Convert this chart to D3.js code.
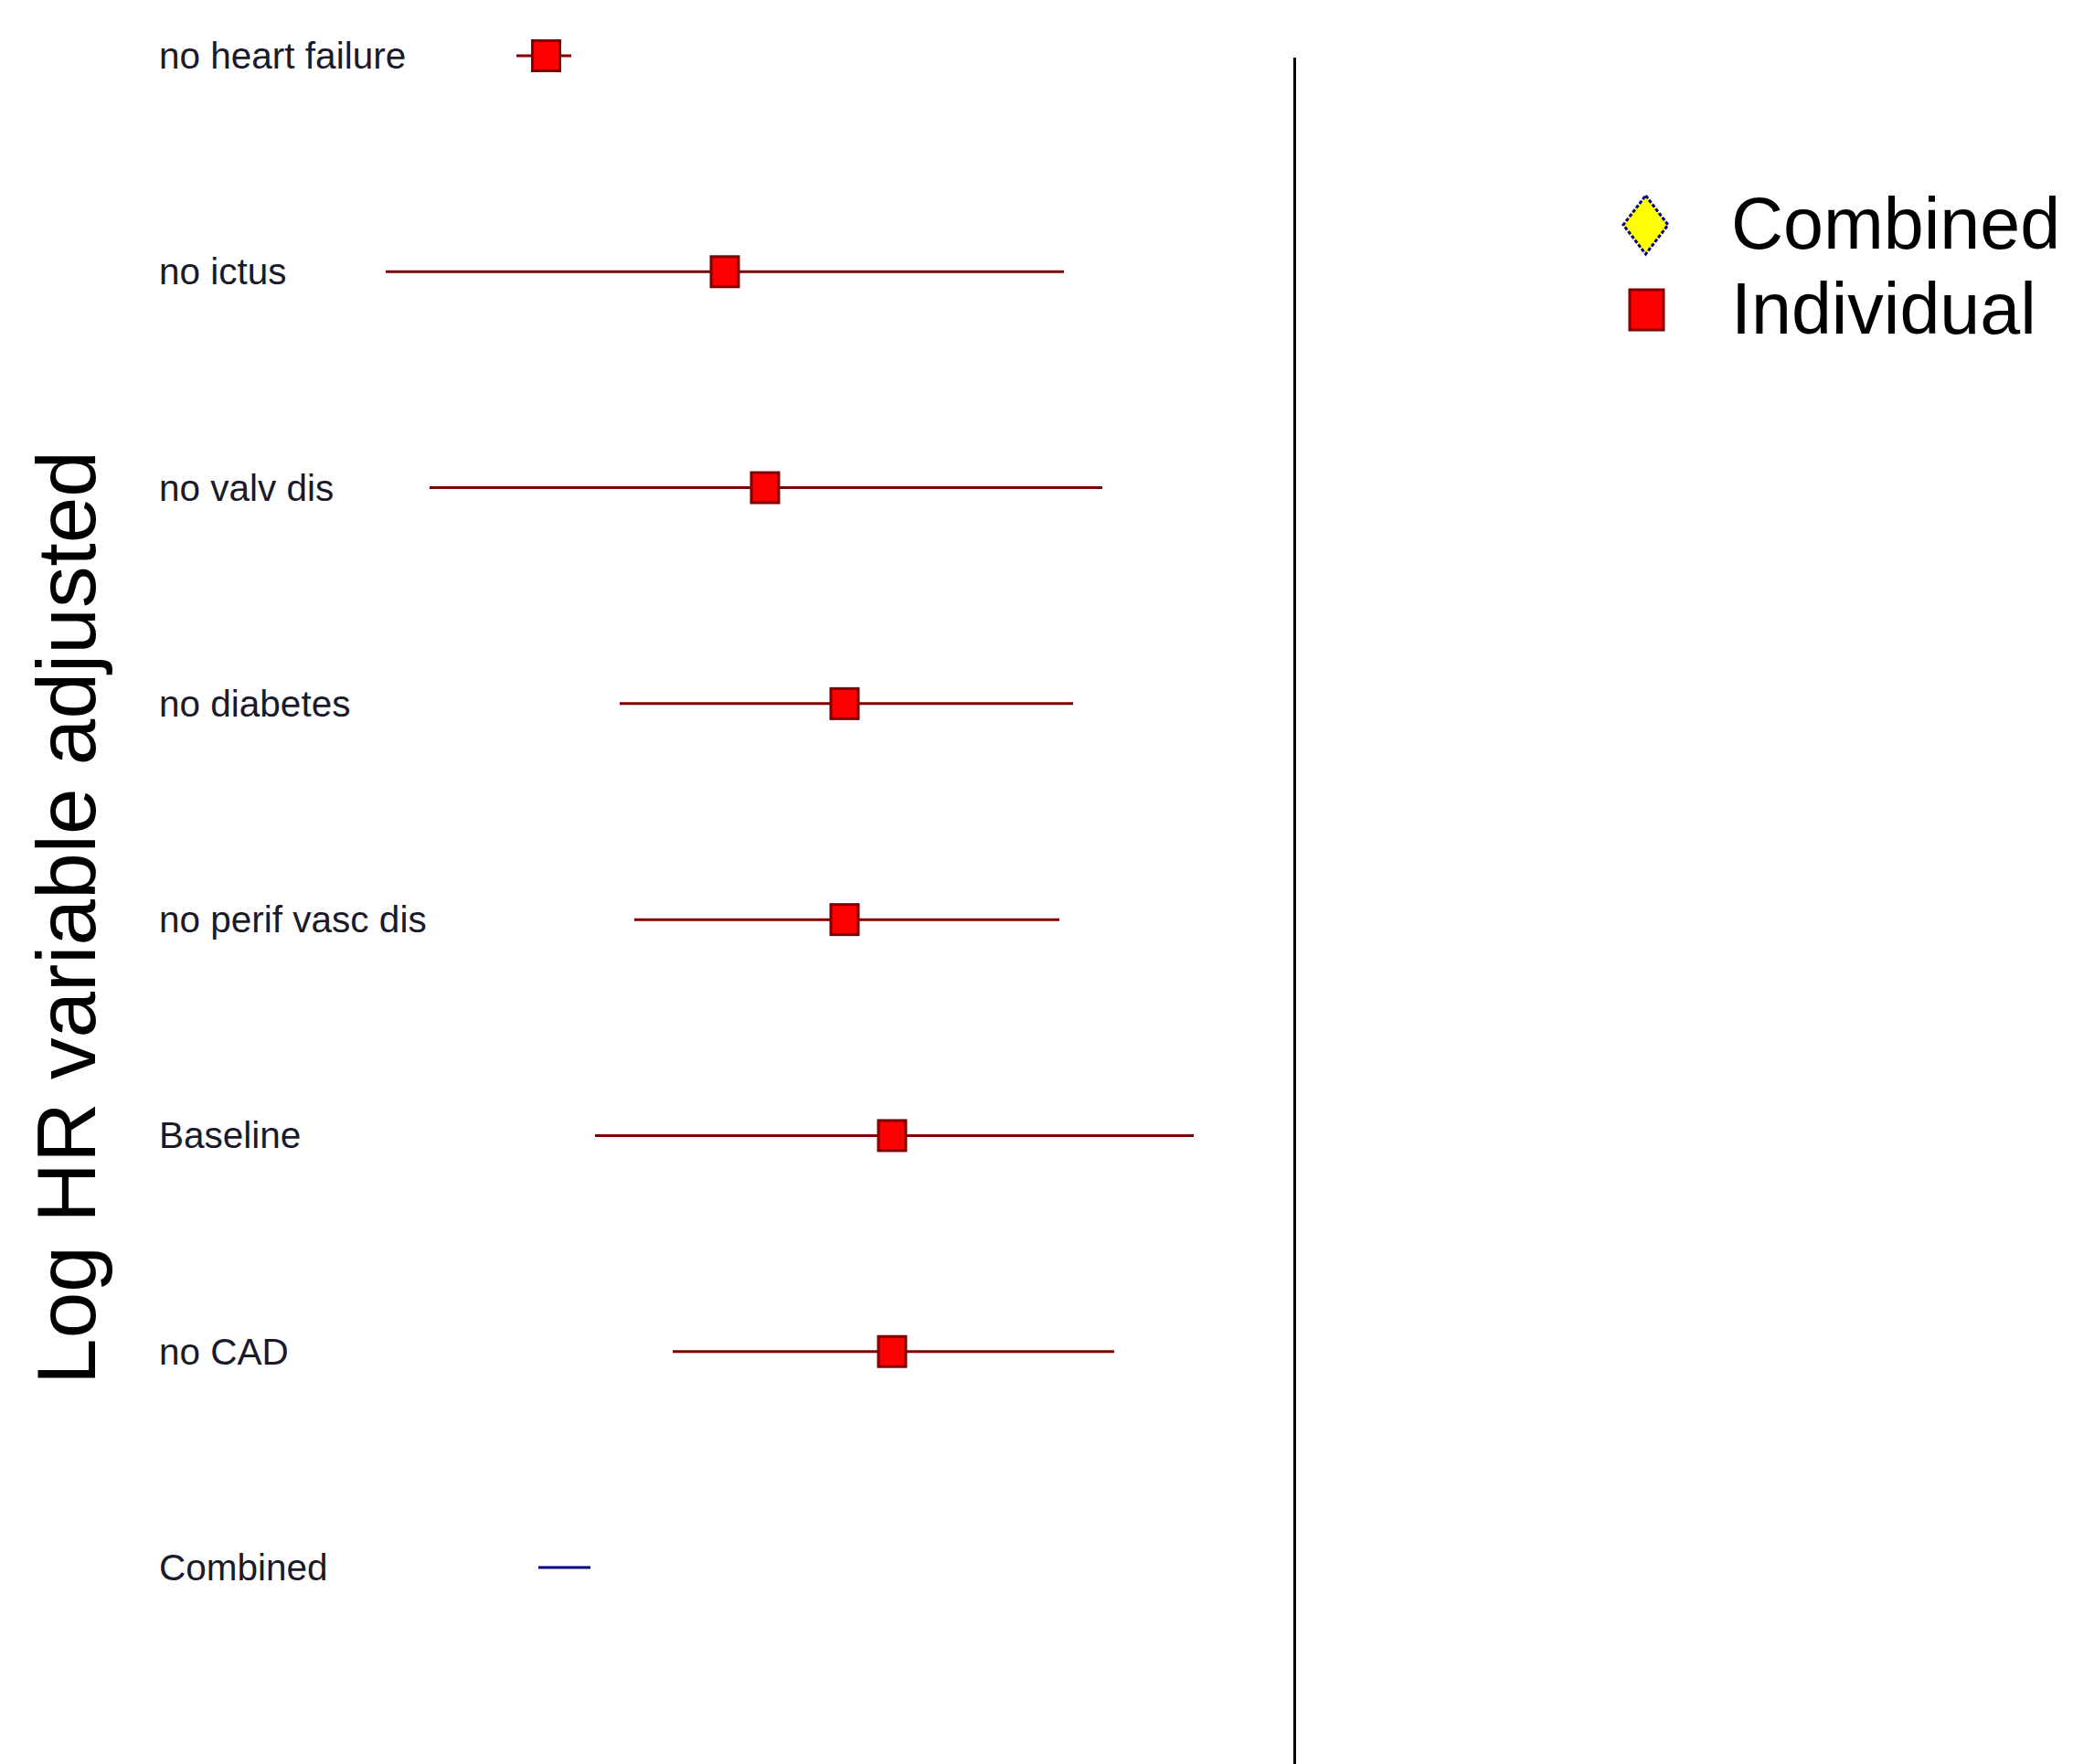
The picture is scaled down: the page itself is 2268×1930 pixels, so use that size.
<!DOCTYPE html>
<html>
<head>
<meta charset="utf-8">
<script src="https://cdn.jsdelivr.net/npm/d3@7"></script>
<style>
  html, body { margin: 0; padding: 0; background: #ffffff; }
  svg { display: block; }
</style>
</head>
<body>
<svg id="chart" width="2268" height="1930"></svg>
<script>
// Forest plot: log hazard ratio with each variable removed from adjustment
const labels = ["no heart failure", "no ictus", "no valv dis", "no diabetes",
                "no perif vasc dis", "Baseline", "no CAD", "Combined"];
const estimates = [-1.638, -1.247, -1.159, -0.985, -0.985, -0.881, -0.881, -1.599];
const lowerCI  = [-1.703, -1.989, -1.893, -1.477, -1.445, -1.531, -1.361, -1.655];
const upperCI  = [-1.583, -0.505, -0.421, -0.485, -0.515, -0.221, -0.395, -1.541];
const kinds    = ["Individual", "Individual", "Individual", "Individual",
                  "Individual", "Individual", "Individual", "Combined"];
const legendItems = ["Combined", "Individual"];

const rows = labels.map((label, i) => ({
  label, est: estimates[i], lo: lowerCI[i], hi: upperCI[i], kind: kinds[i]
}));

const svg = d3.select("#chart");

const x = d3.scaleLinear().domain([-2, 0]).range([416.5, 1416.5]);
const y = d3.scalePoint().domain(labels).range([61, 1715]);

const lineColor = { Individual: "#800000", Combined: "#000080" };

// y-axis title
svg.append("text")
  .attr("transform", "translate(104,1004) rotate(-90)")
  .attr("text-anchor", "middle")
  .attr("font-family", "Liberation Sans, Arial, sans-serif")
  .attr("font-size", 91)
  .attr("fill", "#000")
  .text("Log HR variable adjusted");

// row labels
svg.append("g").selectAll("text")
  .data(rows)
  .join("text")
  .attr("x", 174)
  .attr("y", d => y(d.label) + 14)
  .attr("font-family", "Liberation Sans, Arial, sans-serif")
  .attr("font-size", 40.5)
  .attr("fill", "#1a1a2a")
  .text(d => d.label);

// reference line at log HR = 0
svg.append("line")
  .attr("x1", x(0)).attr("x2", x(0))
  .attr("y1", 63).attr("y2", 1930)
  .attr("stroke", "#000").attr("stroke-width", 3);

// confidence intervals
svg.append("g").selectAll("line")
  .data(rows)
  .join("line")
  .attr("x1", d => x(d.lo))
  .attr("x2", d => x(d.hi))
  .attr("y1", d => y(d.label))
  .attr("y2", d => y(d.label))
  .attr("stroke", d => lineColor[d.kind])
  .attr("stroke-width", 3);

// point estimates for individual models
const sqW = 30, sqH = 33;
svg.append("g").selectAll("rect")
  .data(rows.filter(d => d.kind === "Individual"))
  .join("rect")
  .attr("x", d => x(d.est) - sqW / 2)
  .attr("y", d => y(d.label) - sqH / 2)
  .attr("width", sqW)
  .attr("height", sqH)
  .attr("fill", "#ff0000")
  .attr("stroke", "#800000")
  .attr("stroke-width", 3);

// legend
const legend = svg.append("g");
const legendY = d3.scalePoint().domain(legendItems).range([246, 339]);

legend.append("path")
  .attr("d", d3.line()([[1800.5, 214], [1825, 246], [1800.5, 278], [1776, 246]]) + "Z")
  .attr("transform", `translate(0,${legendY("Combined") - 246})`)
  .attr("fill", "#ffff00")
  .attr("stroke", "#000080")
  .attr("stroke-width", 3)
  .attr("stroke-dasharray", "4,2");

legend.append("rect")
  .attr("x", 1783).attr("y", legendY("Individual") - 22)
  .attr("width", 37).attr("height", 44)
  .attr("fill", "#ff0000")
  .attr("stroke", "#800000")
  .attr("stroke-width", 3);

legend.selectAll("text")
  .data(legendItems)
  .join("text")
  .attr("x", 1894)
  .attr("y", d => legendY(d) + 26)
  .attr("font-family", "Liberation Sans, Arial, sans-serif")
  .attr("font-size", 79)
  .attr("fill", "#000")
  .text(d => d);
</script>
</body>
</html>
